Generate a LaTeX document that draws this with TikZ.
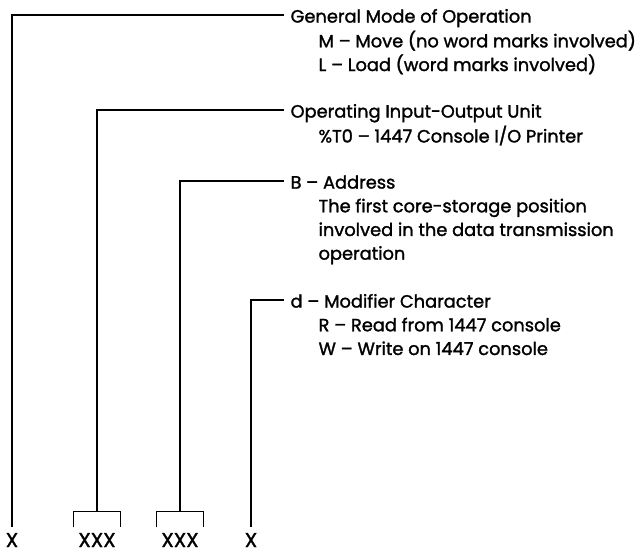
\documentclass[tikz,border=0pt]{standalone}
\usepackage{fontspec}
\setmainfont{Poppins}[FakeBold=1.5, AutoFakeBold=1.5]
\usetikzlibrary{positioning}

\tikzset{
  item/.style={anchor=north west, inner sep=0pt, align=left,
    font=\fontsize{17.8}{23.7}\selectfont},
  field/.style={anchor=base, inner xsep=4pt, inner ysep=0pt,
    text height=19pt, text depth=0pt, font=\fontsize{20}{22}\selectfont},
}
\newcommand{\ind}{\hspace*{28pt}}

\begin{document}
\begin{tikzpicture}[x=1pt, y=-1pt, line width=1.2pt]
  \useasboundingbox (0,0) rectangle (640,554);

  % What each part of the instruction means (first baselines 22, 117, 188, 307)
  \node[item] (mode) at (290,5.4) {\strut General Mode of Operation\\
    \ind M – Move (no word marks involved)\\
    \ind L – Load (word marks involved)};
  \node[item] (unit) at (290,100.4) {\strut Operating Input-Output Unit\\
    \ind \%T0 – 1447 Console I/O Printer};
  \node[item] (addr) at (290,171.4) {\strut B – Address\\
    \ind The first core-storage position\\
    \ind involved in the data transmission\\
    \ind operation};
  \node[item] (modif) at (290,290.4) {\strut d – Modifier Character\\
    \ind R – Read from 1447 console\\
    \ind W – Write on 1447 console};

  % The instruction itself
  \node[field] (opX) at (12,547) {X};
  \node[field] (unitX) at (97,547) {XXX};
  \node[field] (addrX) at (180,547) {XXX};
  \node[field] (modX) at (251,547) {X};

  % Brackets over the three-character fields
  \draw (unitX.north west) -- ++(0,-16) -| (unitX.north east);
  \draw (addrX.north west) -- ++(0,-16) -| (addrX.north east);

  % Leaders
  \draw (opX.north) |- ([xshift=-6pt, yshift=-9.6pt]mode.north west);
  \draw ([yshift=16pt]unitX.north) |- ([xshift=-6pt, yshift=-9.6pt]unit.north west);
  \draw ([yshift=16pt]addrX.north) |- ([xshift=-6pt, yshift=-9.6pt]addr.north west);
  \draw (modX.north) |- ([xshift=-6pt, yshift=-9.6pt]modif.north west);

\end{tikzpicture}
\end{document}
